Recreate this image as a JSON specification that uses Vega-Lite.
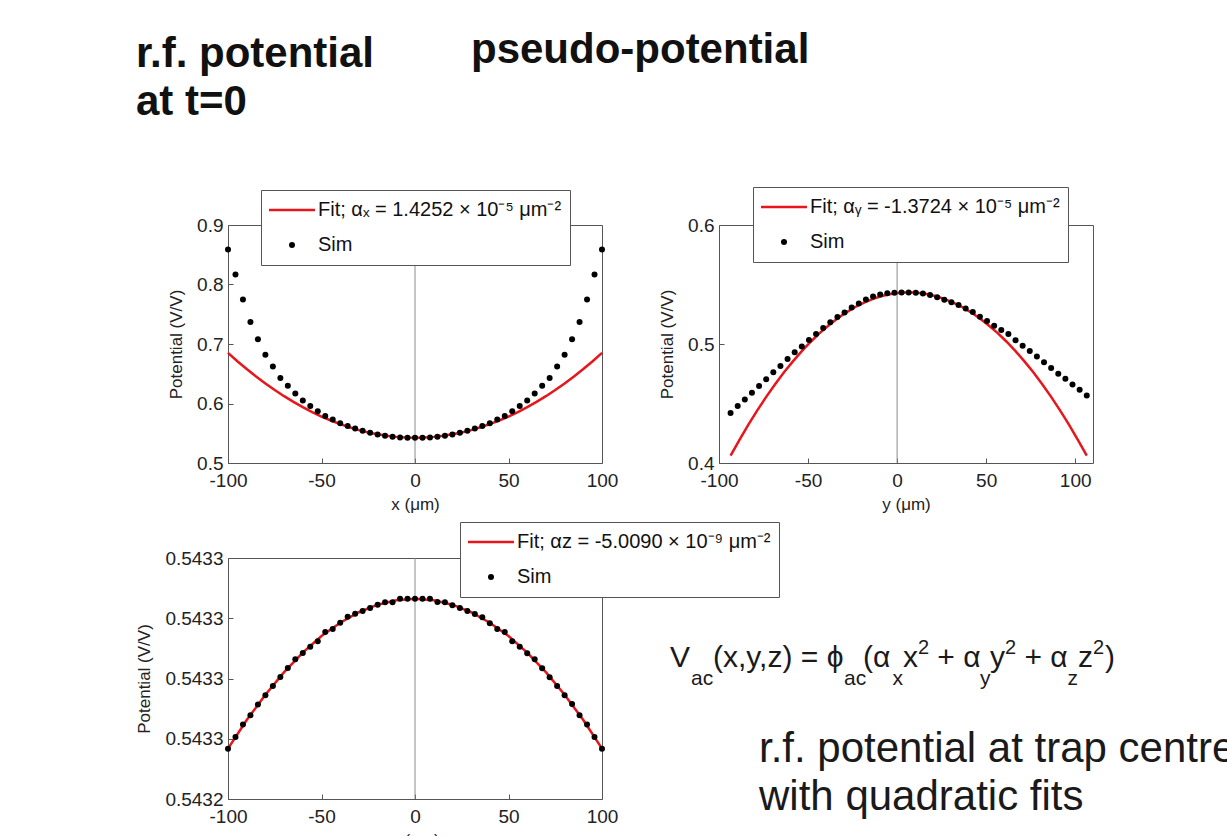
{
  "$schema": "https://vega.github.io/schema/vega-lite/v6.json",
  "background": "white",
  "padding": {"left": 135, "top": 28, "right": 0, "bottom": 0},
  "columns": 2,
  "spacing": {"row": 92, "column": 117},
  "bounds": "flush",
  "align": "all",
  "resolve": {"scale": {"color": "independent"}, "legend": {"color": "independent"}},
  "config": {
    "font": "Liberation Sans",
    "view": {"stroke": "#555555", "strokeWidth": 1},
    "axis": {"domain": false, "grid": false, "ticks": true, "tickSize": -5, "tickColor": "#555555", "labelFont": "Liberation Sans", "labelFontSize": 19, "labelColor": "#222222", "titleFont": "Liberation Sans", "titleFontSize": 17, "titleFontWeight": "normal", "titleColor": "#222222", "labelFlush": false, "labelOverlap": false},
    "axisX": {"titlePadding": 6, "labelPadding": 13},
    "axisY": {"titlePadding": 11, "labelPadding": 10},
    "legend": {"orient": "none", "title": null, "direction": "vertical", "columns": 1, "fillColor": "white", "strokeColor": "#555555", "padding": 8, "labelFontSize": 20, "labelFont": "Liberation Sans", "labelColor": "#111111", "labelLimit": 500, "labelOffset": 16, "symbolOffset": 13, "rowPadding": 11, "clipHeight": 24, "symbolSize": 2116, "symbolType": "stroke", "symbolStrokeWidth": 2.5}
  },
  "datasets": {
    "simX": [
      {"x": -100, "v": 0.859, "series": "Sim"}, {"x": -96, "v": 0.817, "series": "Sim"}, {"x": -92, "v": 0.775, "series": "Sim"}, {"x": -88, "v": 0.737, "series": "Sim"}, {"x": -84, "v": 0.708, "series": "Sim"}, {"x": -80, "v": 0.682, "series": "Sim"}, {"x": -76, "v": 0.662, "series": "Sim"}, {"x": -72, "v": 0.643, "series": "Sim"}, {"x": -68, "v": 0.630, "series": "Sim"}, {"x": -64, "v": 0.617, "series": "Sim"}, {"x": -60, "v": 0.605, "series": "Sim"}, {"x": -56, "v": 0.596, "series": "Sim"}, {"x": -52, "v": 0.587, "series": "Sim"}, {"x": -48, "v": 0.579, "series": "Sim"}, {"x": -44, "v": 0.573, "series": "Sim"}, {"x": -40, "v": 0.567, "series": "Sim"}, {"x": -36, "v": 0.562, "series": "Sim"}, {"x": -32, "v": 0.558, "series": "Sim"}, {"x": -28, "v": 0.554, "series": "Sim"}, {"x": -24, "v": 0.551, "series": "Sim"}, {"x": -20, "v": 0.548, "series": "Sim"}, {"x": -16, "v": 0.546, "series": "Sim"}, {"x": -12, "v": 0.544, "series": "Sim"}, {"x": -8, "v": 0.543, "series": "Sim"}, {"x": -4, "v": 0.5425, "series": "Sim"}, {"x": 0, "v": 0.5425, "series": "Sim"}, {"x": 4, "v": 0.5425, "series": "Sim"}, {"x": 8, "v": 0.543, "series": "Sim"}, {"x": 12, "v": 0.544, "series": "Sim"}, {"x": 16, "v": 0.546, "series": "Sim"}, {"x": 20, "v": 0.548, "series": "Sim"}, {"x": 24, "v": 0.551, "series": "Sim"}, {"x": 28, "v": 0.554, "series": "Sim"}, {"x": 32, "v": 0.558, "series": "Sim"}, {"x": 36, "v": 0.562, "series": "Sim"}, {"x": 40, "v": 0.567, "series": "Sim"}, {"x": 44, "v": 0.573, "series": "Sim"}, {"x": 48, "v": 0.579, "series": "Sim"}, {"x": 52, "v": 0.587, "series": "Sim"}, {"x": 56, "v": 0.596, "series": "Sim"}, {"x": 60, "v": 0.605, "series": "Sim"}, {"x": 64, "v": 0.617, "series": "Sim"}, {"x": 68, "v": 0.630, "series": "Sim"}, {"x": 72, "v": 0.643, "series": "Sim"}, {"x": 76, "v": 0.662, "series": "Sim"}, {"x": 80, "v": 0.682, "series": "Sim"}, {"x": 84, "v": 0.708, "series": "Sim"}, {"x": 88, "v": 0.737, "series": "Sim"}, {"x": 92, "v": 0.775, "series": "Sim"}, {"x": 96, "v": 0.817, "series": "Sim"}, {"x": 100, "v": 0.859, "series": "Sim"}
    ],
    "fitX": [
      {"x": -100, "v": 0.6850, "series": "Fit"}, {"x": -95, "v": 0.6711, "series": "Fit"}, {"x": -90, "v": 0.6579, "series": "Fit"}, {"x": -85, "v": 0.6455, "series": "Fit"}, {"x": -80, "v": 0.6337, "series": "Fit"}, {"x": -75, "v": 0.6227, "series": "Fit"}, {"x": -70, "v": 0.6123, "series": "Fit"}, {"x": -65, "v": 0.6027, "series": "Fit"}, {"x": -60, "v": 0.5938, "series": "Fit"}, {"x": -55, "v": 0.5856, "series": "Fit"}, {"x": -50, "v": 0.5781, "series": "Fit"}, {"x": -45, "v": 0.5714, "series": "Fit"}, {"x": -40, "v": 0.5653, "series": "Fit"}, {"x": -35, "v": 0.5600, "series": "Fit"}, {"x": -30, "v": 0.5553, "series": "Fit"}, {"x": -25, "v": 0.5514, "series": "Fit"}, {"x": -20, "v": 0.5482, "series": "Fit"}, {"x": -15, "v": 0.5457, "series": "Fit"}, {"x": -10, "v": 0.5439, "series": "Fit"}, {"x": -5, "v": 0.5429, "series": "Fit"}, {"x": 0, "v": 0.5425, "series": "Fit"}, {"x": 5, "v": 0.5429, "series": "Fit"}, {"x": 10, "v": 0.5439, "series": "Fit"}, {"x": 15, "v": 0.5457, "series": "Fit"}, {"x": 20, "v": 0.5482, "series": "Fit"}, {"x": 25, "v": 0.5514, "series": "Fit"}, {"x": 30, "v": 0.5553, "series": "Fit"}, {"x": 35, "v": 0.5600, "series": "Fit"}, {"x": 40, "v": 0.5653, "series": "Fit"}, {"x": 45, "v": 0.5714, "series": "Fit"}, {"x": 50, "v": 0.5781, "series": "Fit"}, {"x": 55, "v": 0.5856, "series": "Fit"}, {"x": 60, "v": 0.5938, "series": "Fit"}, {"x": 65, "v": 0.6027, "series": "Fit"}, {"x": 70, "v": 0.6123, "series": "Fit"}, {"x": 75, "v": 0.6227, "series": "Fit"}, {"x": 80, "v": 0.6337, "series": "Fit"}, {"x": 85, "v": 0.6455, "series": "Fit"}, {"x": 90, "v": 0.6579, "series": "Fit"}, {"x": 95, "v": 0.6711, "series": "Fit"}, {"x": 100, "v": 0.6850, "series": "Fit"}
    ],
    "simY": [
      {"x": -93.5, "v": 0.442, "series": "Sim"}, {"x": -89.5, "v": 0.448, "series": "Sim"}, {"x": -85.5, "v": 0.4534, "series": "Sim"}, {"x": -81.5, "v": 0.459, "series": "Sim"}, {"x": -77.5, "v": 0.4648, "series": "Sim"}, {"x": -73.5, "v": 0.4704, "series": "Sim"}, {"x": -69.5, "v": 0.4763, "series": "Sim"}, {"x": -65.5, "v": 0.4816, "series": "Sim"}, {"x": -61.5, "v": 0.4874, "series": "Sim"}, {"x": -57.5, "v": 0.493, "series": "Sim"}, {"x": -53.5, "v": 0.498, "series": "Sim"}, {"x": -49.5, "v": 0.5034, "series": "Sim"}, {"x": -45.5, "v": 0.5084, "series": "Sim"}, {"x": -41.5, "v": 0.5134, "series": "Sim"}, {"x": -37.5, "v": 0.5182, "series": "Sim"}, {"x": -33.5, "v": 0.5226, "series": "Sim"}, {"x": -29.5, "v": 0.5265, "series": "Sim"}, {"x": -25.5, "v": 0.5307, "series": "Sim"}, {"x": -21.5, "v": 0.534, "series": "Sim"}, {"x": -17.5, "v": 0.5374, "series": "Sim"}, {"x": -13.5, "v": 0.540, "series": "Sim"}, {"x": -9.5, "v": 0.5416, "series": "Sim"}, {"x": -5.5, "v": 0.5427, "series": "Sim"}, {"x": -1.5, "v": 0.5431, "series": "Sim"}, {"x": 2.5, "v": 0.5433, "series": "Sim"}, {"x": 6.5, "v": 0.5433, "series": "Sim"}, {"x": 10.5, "v": 0.5430, "series": "Sim"}, {"x": 14.5, "v": 0.5425, "series": "Sim"}, {"x": 18.5, "v": 0.5411, "series": "Sim"}, {"x": 22.5, "v": 0.5392, "series": "Sim"}, {"x": 26.5, "v": 0.5372, "series": "Sim"}, {"x": 30.5, "v": 0.5350, "series": "Sim"}, {"x": 34.5, "v": 0.5327, "series": "Sim"}, {"x": 38.5, "v": 0.5299, "series": "Sim"}, {"x": 42.5, "v": 0.5268, "series": "Sim"}, {"x": 46.5, "v": 0.5229, "series": "Sim"}, {"x": 50.5, "v": 0.5193, "series": "Sim"}, {"x": 54.5, "v": 0.5154, "series": "Sim"}, {"x": 58.5, "v": 0.5118, "series": "Sim"}, {"x": 62.5, "v": 0.5084, "series": "Sim"}, {"x": 66.5, "v": 0.5031, "series": "Sim"}, {"x": 70.5, "v": 0.4986, "series": "Sim"}, {"x": 74.5, "v": 0.4942, "series": "Sim"}, {"x": 78.5, "v": 0.4894, "series": "Sim"}, {"x": 82.5, "v": 0.4847, "series": "Sim"}, {"x": 86.5, "v": 0.4799, "series": "Sim"}, {"x": 90.5, "v": 0.4751, "series": "Sim"}, {"x": 94.5, "v": 0.4707, "series": "Sim"}, {"x": 98.5, "v": 0.4659, "series": "Sim"}, {"x": 102.5, "v": 0.4615, "series": "Sim"}, {"x": 106.5, "v": 0.4567, "series": "Sim"}
    ],
    "fitY": [
      {"x": -93.5, "v": 0.4062, "series": "Fit"}, {"x": -88.5, "v": 0.4195, "series": "Fit"}, {"x": -83.5, "v": 0.4322, "series": "Fit"}, {"x": -78.5, "v": 0.4442, "series": "Fit"}, {"x": -73.5, "v": 0.4556, "series": "Fit"}, {"x": -68.5, "v": 0.4662, "series": "Fit"}, {"x": -63.5, "v": 0.4762, "series": "Fit"}, {"x": -58.5, "v": 0.4854, "series": "Fit"}, {"x": -53.5, "v": 0.4940, "series": "Fit"}, {"x": -48.5, "v": 0.5019, "series": "Fit"}, {"x": -43.5, "v": 0.5091, "series": "Fit"}, {"x": -38.5, "v": 0.5156, "series": "Fit"}, {"x": -33.5, "v": 0.5214, "series": "Fit"}, {"x": -28.5, "v": 0.5266, "series": "Fit"}, {"x": -23.5, "v": 0.5311, "series": "Fit"}, {"x": -18.5, "v": 0.5348, "series": "Fit"}, {"x": -13.5, "v": 0.5379, "series": "Fit"}, {"x": -8.5, "v": 0.5403, "series": "Fit"}, {"x": -3.5, "v": 0.5420, "series": "Fit"}, {"x": 1.5, "v": 0.5431, "series": "Fit"}, {"x": 6.5, "v": 0.5434, "series": "Fit"}, {"x": 11.5, "v": 0.5431, "series": "Fit"}, {"x": 16.5, "v": 0.5420, "series": "Fit"}, {"x": 21.5, "v": 0.5403, "series": "Fit"}, {"x": 26.5, "v": 0.5379, "series": "Fit"}, {"x": 31.5, "v": 0.5348, "series": "Fit"}, {"x": 36.5, "v": 0.5311, "series": "Fit"}, {"x": 41.5, "v": 0.5266, "series": "Fit"}, {"x": 46.5, "v": 0.5214, "series": "Fit"}, {"x": 51.5, "v": 0.5156, "series": "Fit"}, {"x": 56.5, "v": 0.5091, "series": "Fit"}, {"x": 61.5, "v": 0.5019, "series": "Fit"}, {"x": 66.5, "v": 0.4940, "series": "Fit"}, {"x": 71.5, "v": 0.4854, "series": "Fit"}, {"x": 76.5, "v": 0.4762, "series": "Fit"}, {"x": 81.5, "v": 0.4662, "series": "Fit"}, {"x": 86.5, "v": 0.4556, "series": "Fit"}, {"x": 91.5, "v": 0.4442, "series": "Fit"}, {"x": 96.5, "v": 0.4322, "series": "Fit"}, {"x": 101.5, "v": 0.4195, "series": "Fit"}, {"x": 106.5, "v": 0.4062, "series": "Fit"}
    ],
    "simZ": [
      {"x": -100, "v": 0.54325067, "series": "Sim"}, {"x": -96, "v": 0.54325106, "series": "Sim"}, {"x": -92, "v": 0.54325147, "series": "Sim"}, {"x": -88, "v": 0.54325178, "series": "Sim"}, {"x": -84, "v": 0.54325214, "series": "Sim"}, {"x": -80, "v": 0.54325244, "series": "Sim"}, {"x": -76, "v": 0.54325275, "series": "Sim"}, {"x": -72, "v": 0.54325305, "series": "Sim"}, {"x": -68, "v": 0.54325335, "series": "Sim"}, {"x": -64, "v": 0.54325364, "series": "Sim"}, {"x": -60, "v": 0.54325385, "series": "Sim"}, {"x": -56, "v": 0.54325405, "series": "Sim"}, {"x": -52, "v": 0.54325424, "series": "Sim"}, {"x": -48, "v": 0.54325454, "series": "Sim"}, {"x": -44, "v": 0.54325464, "series": "Sim"}, {"x": -40, "v": 0.54325485, "series": "Sim"}, {"x": -36, "v": 0.54325505, "series": "Sim"}, {"x": -32, "v": 0.54325515, "series": "Sim"}, {"x": -28, "v": 0.54325524, "series": "Sim"}, {"x": -24, "v": 0.54325534, "series": "Sim"}, {"x": -20, "v": 0.54325545, "series": "Sim"}, {"x": -16, "v": 0.54325553, "series": "Sim"}, {"x": -12, "v": 0.54325553, "series": "Sim"}, {"x": -8, "v": 0.54325565, "series": "Sim"}, {"x": -4, "v": 0.54325565, "series": "Sim"}, {"x": 0, "v": 0.54325565, "series": "Sim"}, {"x": 4, "v": 0.54325565, "series": "Sim"}, {"x": 8, "v": 0.54325565, "series": "Sim"}, {"x": 12, "v": 0.54325554, "series": "Sim"}, {"x": 16, "v": 0.54325553, "series": "Sim"}, {"x": 20, "v": 0.54325543, "series": "Sim"}, {"x": 24, "v": 0.54325534, "series": "Sim"}, {"x": 28, "v": 0.54325524, "series": "Sim"}, {"x": 32, "v": 0.54325514, "series": "Sim"}, {"x": 36, "v": 0.54325503, "series": "Sim"}, {"x": 40, "v": 0.54325483, "series": "Sim"}, {"x": 44, "v": 0.54325464, "series": "Sim"}, {"x": 48, "v": 0.54325454, "series": "Sim"}, {"x": 52, "v": 0.54325424, "series": "Sim"}, {"x": 56, "v": 0.54325405, "series": "Sim"}, {"x": 60, "v": 0.54325384, "series": "Sim"}, {"x": 64, "v": 0.54325364, "series": "Sim"}, {"x": 68, "v": 0.54325334, "series": "Sim"}, {"x": 72, "v": 0.54325304, "series": "Sim"}, {"x": 76, "v": 0.54325275, "series": "Sim"}, {"x": 80, "v": 0.54325244, "series": "Sim"}, {"x": 84, "v": 0.54325215, "series": "Sim"}, {"x": 88, "v": 0.54325178, "series": "Sim"}, {"x": 92, "v": 0.54325147, "series": "Sim"}, {"x": 96, "v": 0.54325106, "series": "Sim"}, {"x": 100, "v": 0.54325067, "series": "Sim"}
    ],
    "fitZ": [
      {"x": -100, "v": 0.54325067, "series": "Fit"}, {"x": -90, "v": 0.54325162, "series": "Fit"}, {"x": -80, "v": 0.54325246, "series": "Fit"}, {"x": -70, "v": 0.54325321, "series": "Fit"}, {"x": -60, "v": 0.54325386, "series": "Fit"}, {"x": -50, "v": 0.54325441, "series": "Fit"}, {"x": -40, "v": 0.54325485, "series": "Fit"}, {"x": -30, "v": 0.5432552, "series": "Fit"}, {"x": -20, "v": 0.54325545, "series": "Fit"}, {"x": -10, "v": 0.5432556, "series": "Fit"}, {"x": 0, "v": 0.54325565, "series": "Fit"}, {"x": 10, "v": 0.5432556, "series": "Fit"}, {"x": 20, "v": 0.54325545, "series": "Fit"}, {"x": 30, "v": 0.5432552, "series": "Fit"}, {"x": 40, "v": 0.54325485, "series": "Fit"}, {"x": 50, "v": 0.54325441, "series": "Fit"}, {"x": 60, "v": 0.54325386, "series": "Fit"}, {"x": 70, "v": 0.54325321, "series": "Fit"}, {"x": 80, "v": 0.54325246, "series": "Fit"}, {"x": 90, "v": 0.54325162, "series": "Fit"}, {"x": 100, "v": 0.54325067, "series": "Fit"}
    ]
  },
  "concat": [
    {
      "width": 374, "height": 238,
      "title": {"text": ["r.f. potential", "at t=0"], "anchor": "start", "frame": "group", "dx": -92, "offset": 66, "fontSize": 42, "fontWeight": "bold", "font": "Liberation Sans", "color": "#111111", "lineHeight": 48},
      "layer": [
        {"data": {"values": [{}]}, "mark": {"type": "rule", "color": "#8c8c8c", "strokeWidth": 1}, "encoding": {"x": {"datum": 0, "type": "quantitative"}}},
        {"data": {"name": "fitX"}, "mark": {"type": "line", "strokeWidth": 2.5},
         "encoding": {
           "x": {"field": "x", "type": "quantitative", "scale": {"domain": [-100, 100], "nice": false}, "axis": {"title": "x (μm)", "values": [-100, -50, 0, 50, 100], "labelExpr": "datum.value < 0 ? '-' + format(-datum.value, 'd') : format(datum.value, 'd')"}},
           "y": {"field": "v", "type": "quantitative", "scale": {"domain": [0.5, 0.9], "nice": false}, "axis": {"title": "Potential (V/V)", "values": [0.5, 0.6, 0.7, 0.8, 0.9], "format": ".1f"}},
           "color": {"field": "series", "type": "nominal", "scale": {"domain": ["Fit", "Sim"], "range": ["#e8151b", "#000000"]},
             "legend": {"legendX": 33, "legendY": -35, "labelExpr": "datum.label === 'Fit' ? 'Fit; αₓ = 1.4252 × 10⁻⁵ μm⁻²' : datum.label",
               "encode": {"symbols": {"update": {"shape": {"signal": "datum.value === 'Sim' ? 'circle' : 'stroke'"}, "size": {"signal": "datum.value === 'Sim' ? 36 : 2116"}, "fill": {"signal": "datum.value === 'Sim' ? '#000000' : 'transparent'"}, "stroke": {"signal": "datum.value === 'Sim' ? '#000000' : '#e8151b'"}, "strokeWidth": {"signal": "datum.value === 'Sim' ? 0 : 2.5"}, "opacity": {"value": 1}}}}}}
         }},
        {"data": {"name": "simX"}, "mark": {"type": "point", "filled": true, "size": 36, "opacity": 1},
         "encoding": {"x": {"field": "x", "type": "quantitative"}, "y": {"field": "v", "type": "quantitative"}, "color": {"field": "series", "type": "nominal"}}}
      ]
    },
    {
      "width": 374, "height": 238,
      "title": {"text": "pseudo-potential", "anchor": "start", "frame": "group", "dx": -248, "offset": 115, "fontSize": 42, "fontWeight": "bold", "font": "Liberation Sans", "color": "#111111"},
      "layer": [
        {"data": {"values": [{}]}, "mark": {"type": "rule", "color": "#8c8c8c", "strokeWidth": 1}, "encoding": {"x": {"datum": 0, "type": "quantitative"}}},
        {"data": {"name": "fitY"}, "mark": {"type": "line", "strokeWidth": 2.5},
         "encoding": {
           "x": {"field": "x", "type": "quantitative", "scale": {"domain": [-100, 110], "nice": false}, "axis": {"title": "y (μm)", "values": [-100, -50, 0, 50, 100], "labelExpr": "datum.value < 0 ? '-' + format(-datum.value, 'd') : format(datum.value, 'd')"}},
           "y": {"field": "v", "type": "quantitative", "scale": {"domain": [0.4, 0.6], "nice": false}, "axis": {"title": "Potential (V/V)", "values": [0.4, 0.5, 0.6], "format": ".1f"}},
           "color": {"field": "series", "type": "nominal", "scale": {"domain": ["Fit", "Sim"], "range": ["#e8151b", "#000000"]},
             "legend": {"legendX": 34, "legendY": -38, "labelExpr": "datum.label === 'Fit' ? 'Fit; αᵧ = -1.3724 × 10⁻⁵ μm⁻²' : datum.label",
               "encode": {"symbols": {"update": {"shape": {"signal": "datum.value === 'Sim' ? 'circle' : 'stroke'"}, "size": {"signal": "datum.value === 'Sim' ? 36 : 2116"}, "fill": {"signal": "datum.value === 'Sim' ? '#000000' : 'transparent'"}, "stroke": {"signal": "datum.value === 'Sim' ? '#000000' : '#e8151b'"}, "strokeWidth": {"signal": "datum.value === 'Sim' ? 0 : 2.5"}, "opacity": {"value": 1}}}}}}
         }},
        {"data": {"name": "simY"}, "mark": {"type": "point", "filled": true, "size": 36, "opacity": 1},
         "encoding": {"x": {"field": "x", "type": "quantitative"}, "y": {"field": "v", "type": "quantitative"}, "color": {"field": "series", "type": "nominal"}}}
      ]
    },
    {
      "width": 374, "height": 241,
      "layer": [
        {"data": {"values": [{}]}, "mark": {"type": "rule", "color": "#8c8c8c", "strokeWidth": 1}, "encoding": {"x": {"datum": 0, "type": "quantitative"}}},
        {"data": {"name": "fitZ"}, "mark": {"type": "line", "strokeWidth": 2.5},
         "encoding": {
           "x": {"field": "x", "type": "quantitative", "scale": {"domain": [-100, 100], "nice": false}, "axis": {"title": "z (μm)", "values": [-100, -50, 0, 50, 100], "labelExpr": "datum.value < 0 ? '-' + format(-datum.value, 'd') : format(datum.value, 'd')"}},
           "y": {"field": "v", "type": "quantitative", "scale": {"domain": [0.543249, 0.543257], "nice": false, "zero": false}, "axis": {"title": "Potential (V/V)", "values": [0.543249, 0.543251, 0.543253, 0.543255, 0.543257], "format": ".4f"}},
           "color": {"field": "series", "type": "nominal", "scale": {"domain": ["Fit", "Sim"], "range": ["#e8151b", "#000000"]},
             "legend": {"legendX": 232, "legendY": -36, "labelExpr": "datum.label === 'Fit' ? 'Fit; αz = -5.0090 × 10⁻⁹ μm⁻²' : datum.label",
               "encode": {"symbols": {"update": {"shape": {"signal": "datum.value === 'Sim' ? 'circle' : 'stroke'"}, "size": {"signal": "datum.value === 'Sim' ? 36 : 2116"}, "fill": {"signal": "datum.value === 'Sim' ? '#000000' : 'transparent'"}, "stroke": {"signal": "datum.value === 'Sim' ? '#000000' : '#e8151b'"}, "strokeWidth": {"signal": "datum.value === 'Sim' ? 0 : 2.5"}, "opacity": {"value": 1}}}}}}
         }},
        {"data": {"name": "simZ"}, "mark": {"type": "point", "filled": true, "size": 36, "opacity": 1},
         "encoding": {"x": {"field": "x", "type": "quantitative"}, "y": {"field": "v", "type": "quantitative"}, "color": {"field": "series", "type": "nominal"}}}
      ]
    },
    {
      "width": 374, "height": 241,
      "view": {"stroke": null},
      "data": {"values": [{}]},
      "layer": [
        {"mark": {"type": "text", "text": "V", "fontSize": 30, "align": "left", "baseline": "alphabetic", "color": "#1a1a1a"}, "encoding": {"x": {"datum": -13.1, "type": "quantitative", "scale": {"domain": [0, 100]}, "axis": null}, "y": {"datum": 54.58, "type": "quantitative", "scale": {"domain": [0, 100]}, "axis": null}}},
        {"mark": {"type": "text", "text": "ac", "fontSize": 21, "align": "left", "baseline": "alphabetic", "color": "#1a1a1a"}, "encoding": {"x": {"datum": -7.49, "type": "quantitative"}, "y": {"datum": 47.5, "type": "quantitative"}}},
        {"mark": {"type": "text", "text": "(x,y,z) = ϕ", "fontSize": 30, "align": "left", "baseline": "alphabetic", "color": "#1a1a1a"}, "encoding": {"x": {"datum": -1.6, "type": "quantitative"}, "y": {"datum": 54.58, "type": "quantitative"}}},
        {"mark": {"type": "text", "text": "ac", "fontSize": 21, "align": "left", "baseline": "alphabetic", "color": "#1a1a1a"}, "encoding": {"x": {"datum": 33.42, "type": "quantitative"}, "y": {"datum": 47.5, "type": "quantitative"}}},
        {"mark": {"type": "text", "text": "(α", "fontSize": 30, "align": "left", "baseline": "alphabetic", "color": "#1a1a1a"}, "encoding": {"x": {"datum": 38.5, "type": "quantitative"}, "y": {"datum": 54.58, "type": "quantitative"}}},
        {"mark": {"type": "text", "text": "x", "fontSize": 21, "align": "left", "baseline": "alphabetic", "color": "#1a1a1a"}, "encoding": {"x": {"datum": 46.39, "type": "quantitative"}, "y": {"datum": 47.5, "type": "quantitative"}}},
        {"mark": {"type": "text", "text": "x", "fontSize": 30, "align": "left", "baseline": "alphabetic", "color": "#1a1a1a"}, "encoding": {"x": {"datum": 49.2, "type": "quantitative"}, "y": {"datum": 54.58, "type": "quantitative"}}},
        {"mark": {"type": "text", "text": "2", "fontSize": 20, "align": "left", "baseline": "alphabetic", "color": "#1a1a1a"}, "encoding": {"x": {"datum": 53.21, "type": "quantitative"}, "y": {"datum": 60.0, "type": "quantitative"}}},
        {"mark": {"type": "text", "text": "+ α", "fontSize": 30, "align": "left", "baseline": "alphabetic", "color": "#1a1a1a"}, "encoding": {"x": {"datum": 58.37, "type": "quantitative"}, "y": {"datum": 54.58, "type": "quantitative"}}},
        {"mark": {"type": "text", "text": "y", "fontSize": 21, "align": "left", "baseline": "alphabetic", "color": "#1a1a1a"}, "encoding": {"x": {"datum": 69.79, "type": "quantitative"}, "y": {"datum": 47.5, "type": "quantitative"}}},
        {"mark": {"type": "text", "text": "y", "fontSize": 30, "align": "left", "baseline": "alphabetic", "color": "#1a1a1a"}, "encoding": {"x": {"datum": 72.46, "type": "quantitative"}, "y": {"datum": 54.58, "type": "quantitative"}}},
        {"mark": {"type": "text", "text": "2", "fontSize": 20, "align": "left", "baseline": "alphabetic", "color": "#1a1a1a"}, "encoding": {"x": {"datum": 76.47, "type": "quantitative"}, "y": {"datum": 60.0, "type": "quantitative"}}},
        {"mark": {"type": "text", "text": "+ α", "fontSize": 30, "align": "left", "baseline": "alphabetic", "color": "#1a1a1a"}, "encoding": {"x": {"datum": 81.66, "type": "quantitative"}, "y": {"datum": 54.58, "type": "quantitative"}}},
        {"mark": {"type": "text", "text": "z", "fontSize": 21, "align": "left", "baseline": "alphabetic", "color": "#1a1a1a"}, "encoding": {"x": {"datum": 93.18, "type": "quantitative"}, "y": {"datum": 47.5, "type": "quantitative"}}},
        {"mark": {"type": "text", "text": "z", "fontSize": 30, "align": "left", "baseline": "alphabetic", "color": "#1a1a1a"}, "encoding": {"x": {"datum": 95.99, "type": "quantitative"}, "y": {"datum": 54.58, "type": "quantitative"}}},
        {"mark": {"type": "text", "text": "2", "fontSize": 20, "align": "left", "baseline": "alphabetic", "color": "#1a1a1a"}, "encoding": {"x": {"datum": 100.0, "type": "quantitative"}, "y": {"datum": 60.0, "type": "quantitative"}}},
        {"mark": {"type": "text", "text": ")", "fontSize": 30, "align": "left", "baseline": "alphabetic", "color": "#1a1a1a"}, "encoding": {"x": {"datum": 103.21, "type": "quantitative"}, "y": {"datum": 54.58, "type": "quantitative"}}},
        {"mark": {"type": "text", "text": "r.f. potential at trap centre", "fontSize": 42, "align": "left", "baseline": "alphabetic", "color": "#1a1a1a"}, "encoding": {"x": {"datum": 10.7, "type": "quantitative"}, "y": {"datum": 15.4, "type": "quantitative"}}},
        {"mark": {"type": "text", "text": "with quadratic fits", "fontSize": 42, "align": "left", "baseline": "alphabetic", "color": "#1a1a1a"}, "encoding": {"x": {"datum": 10.7, "type": "quantitative"}, "y": {"datum": -4.56, "type": "quantitative"}}}
      ]
    }
  ]
}
